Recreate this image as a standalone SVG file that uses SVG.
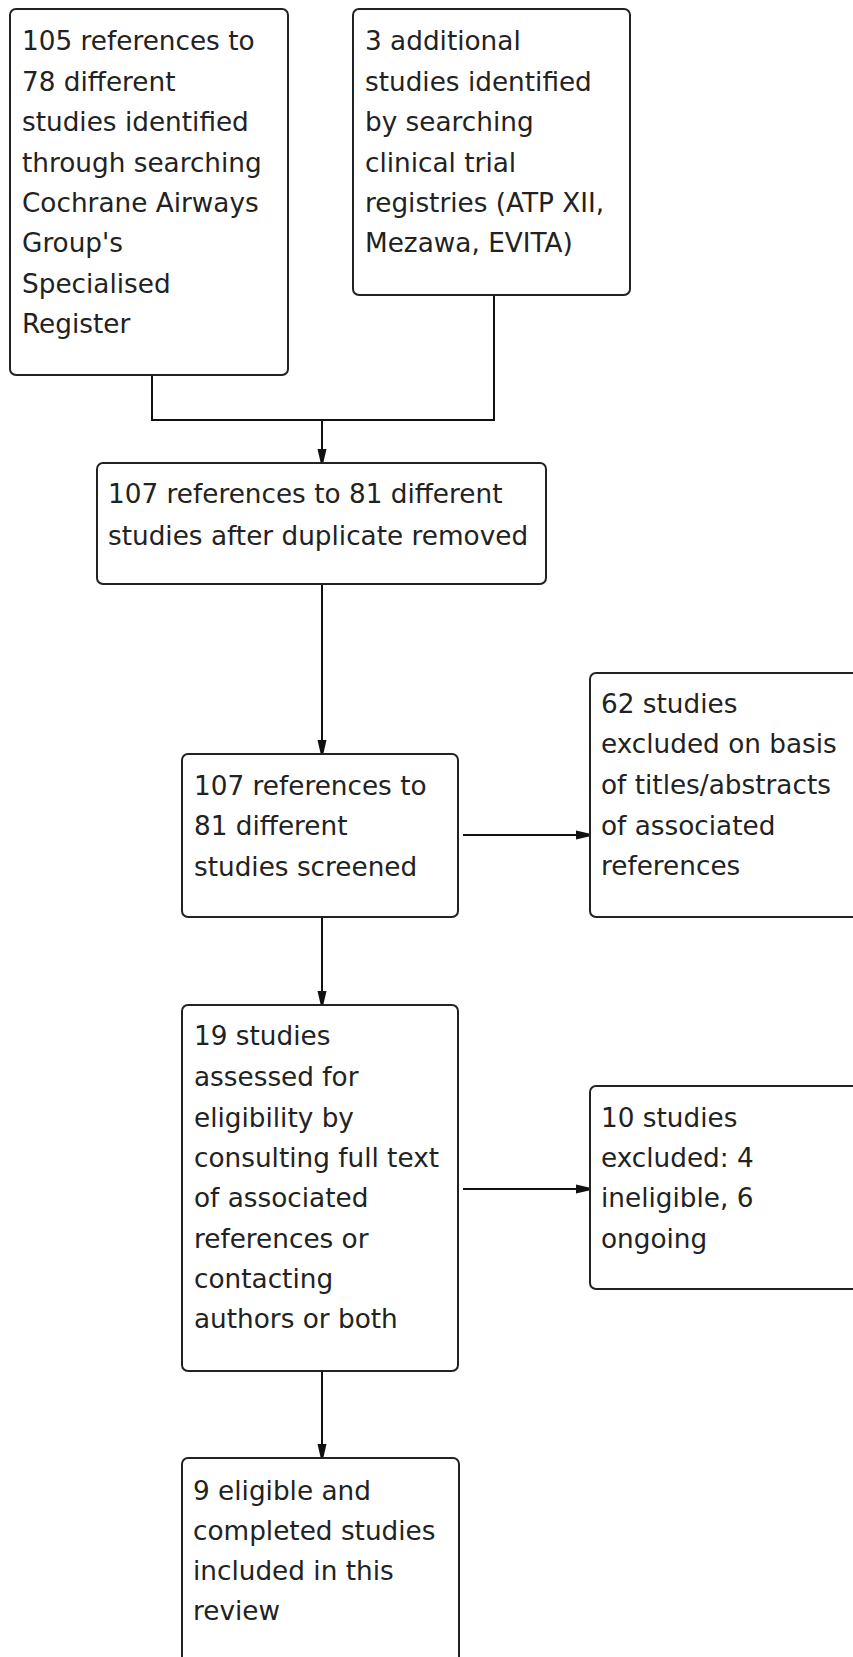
<svg xmlns="http://www.w3.org/2000/svg" width="853" height="1657" viewBox="0 0 853 1657">
<style>
.box{fill:#fff;stroke:#222;stroke-width:2}
.t{font-family:"DejaVu Sans",Verdana,sans-serif;font-size:26.3px;fill:#222}
.c{fill:none;stroke:#111;stroke-width:2}
</style>
<defs>
<marker id="ah" viewBox="-14 -5 15 10" refX="0" refY="0" markerWidth="15" markerHeight="10" markerUnits="userSpaceOnUse" orient="auto">
<path d="M0,-1.5 L-13,-4.5 L-13,4.5 L0,1.5 Z" fill="#111"/>
</marker>
</defs>
<rect width="853" height="1657" fill="#fff"/>
<g id="connectors">
<path class="c" d="M152,375 V420 H494 V295"/>
<path class="c" d="M322,420 V462" marker-end="url(#ah)"/>
<path class="c" d="M322,584 V753" marker-end="url(#ah)"/>
<path class="c" d="M463,835 H589" marker-end="url(#ah)"/>
<path class="c" d="M322,917 V1004" marker-end="url(#ah)"/>
<path class="c" d="M463,1189 H589" marker-end="url(#ah)"/>
<path class="c" d="M322,1371 V1457" marker-end="url(#ah)"/>
</g>
<g id="n1">
<rect class="box" x="10" y="9" width="278" height="366" rx="6"/>
<text class="t" x="22" y="50">105 references to</text>
<text class="t" x="22" y="91">78 different</text>
<text class="t" x="22" y="131">studies identified</text>
<text class="t" x="22" y="172">through searching</text>
<text class="t" x="22" y="212">Cochrane Airways</text>
<text class="t" x="22" y="252">Group's</text>
<text class="t" x="22" y="293">Specialised</text>
<text class="t" x="22" y="333">Register</text>
</g>
<g id="n2">
<rect class="box" x="353" y="9" width="277" height="286" rx="6"/>
<text class="t" x="365" y="50">3 additional</text>
<text class="t" x="365" y="91">studies identified</text>
<text class="t" x="365" y="131">by searching</text>
<text class="t" x="365" y="172">clinical trial</text>
<text class="t" x="365" y="212">registries (ATP XII,</text>
<text class="t" x="365" y="252">Mezawa, EVITA)</text>
</g>
<g id="n3">
<rect class="box" x="97" y="463" width="449" height="121" rx="6"/>
<text class="t" x="108" y="503">107 references to 81 different</text>
<text class="t" x="108" y="545">studies after duplicate removed</text>
</g>
<g id="n4">
<rect class="box" x="182" y="754" width="276" height="163" rx="6"/>
<text class="t" x="194" y="795">107 references to</text>
<text class="t" x="194" y="835">81 different</text>
<text class="t" x="194" y="876">studies screened</text>
</g>
<g id="n5">
<rect class="box" x="590" y="673" width="280" height="244" rx="6"/>
<text class="t" x="601" y="713">62 studies</text>
<text class="t" x="601" y="753">excluded on basis</text>
<text class="t" x="601" y="794">of titles/abstracts</text>
<text class="t" x="601" y="835">of associated</text>
<text class="t" x="601" y="875">references</text>
</g>
<g id="n6">
<rect class="box" x="182" y="1005" width="276" height="366" rx="6"/>
<text class="t" x="194" y="1045">19 studies</text>
<text class="t" x="194" y="1086">assessed for</text>
<text class="t" x="194" y="1127">eligibility by</text>
<text class="t" x="194" y="1167">consulting full text</text>
<text class="t" x="194" y="1207">of associated</text>
<text class="t" x="194" y="1248">references or</text>
<text class="t" x="194" y="1288">contacting</text>
<text class="t" x="194" y="1328">authors or both</text>
</g>
<g id="n7">
<rect class="box" x="590" y="1086" width="280" height="203" rx="6"/>
<text class="t" x="601" y="1127">10 studies</text>
<text class="t" x="601" y="1167">excluded: 4</text>
<text class="t" x="601" y="1207">ineligible, 6</text>
<text class="t" x="601" y="1248">ongoing</text>
</g>
<g id="n8">
<rect class="box" x="182" y="1458" width="277" height="220" rx="6"/>
<text class="t" x="193" y="1500">9 eligible and</text>
<text class="t" x="193" y="1540">completed studies</text>
<text class="t" x="193" y="1580">included in this</text>
<text class="t" x="193" y="1620">review</text>
</g>
</svg>
